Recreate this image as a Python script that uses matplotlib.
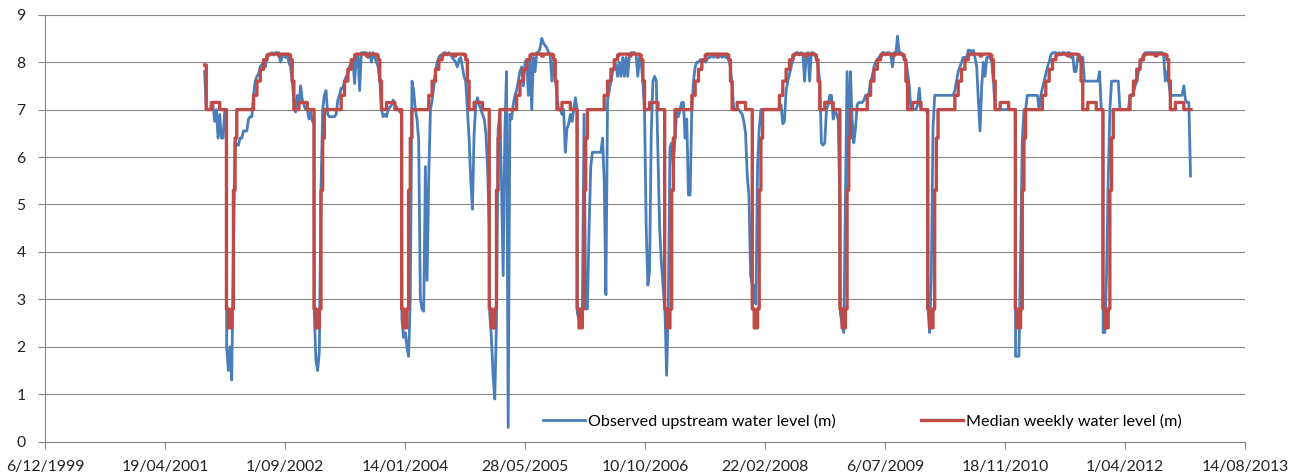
import datetime as dt
import matplotlib
matplotlib.use('Agg')
import matplotlib.pyplot as plt
import matplotlib.dates as mdates

# Observed upstream water level (m), one reading per week counted from 1 January
# of each year. 2001 only starts at week 39.
first_week_2001 = 39
obs_2001 = [7.8, 7.0, 7.0, 7.0, 7.05, 7.1, 6.75, 7.0, 6.4, 6.9, 6.4, 6.4, 7.0, 7.0]
obs_2002 = [2.0, 1.5, 2.0, 1.3, 4.0, 6.3, 6.25, 6.25, 6.4, 6.4, 6.55, 6.55, 6.55, 6.8,
            6.85, 6.85, 7.3, 7.6, 7.7, 7.75, 7.9, 7.95, 8.0, 7.9, 8.1, 8.15, 8.15, 8.2,
            8.15, 8.2, 8.2, 8.2, 8.0, 8.1, 8.15, 8.1, 8.15, 8.0, 7.9, 7.6, 7.2, 6.95,
            7.3, 7.1, 7.5, 7.2, 7.1, 7.0, 7.0, 6.8, 6.95, 6.75, 6.8]
obs_2003 = [2.7, 1.7, 1.5, 1.9, 5.3, 7.0, 7.3, 7.4, 6.9, 6.85, 6.85, 6.85, 6.85, 6.9,
            7.2, 7.3, 7.45, 7.45, 7.6, 7.7, 7.75, 7.9, 8.0, 8.05, 7.55, 8.1, 8.15, 7.4,
            8.2, 8.2, 8.2, 8.2, 8.1, 8.2, 8.0, 8.2, 8.1, 8.0, 7.9, 7.6, 7.0, 6.85, 6.9,
            6.85, 7.0, 7.05, 7.1, 7.2, 7.1, 7.05, 7.0, 6.95, 6.9]
obs_2004 = [2.6, 2.2, 2.3, 2.0, 1.8, 3.0, 7.6, 7.4, 7.0, 6.8, 6.35, 3.0, 2.8, 2.75,
            5.8, 3.4, 5.6, 7.0, 7.2, 7.5, 7.8, 8.0, 8.1, 8.15, 8.15, 8.2, 8.2, 8.15,
            8.2, 8.15, 8.1, 8.05, 8.0, 7.9, 8.05, 8.1, 7.9, 7.7, 7.6, 7.0, 6.4, 5.5,
            4.9, 6.5, 7.1, 7.25, 7.1, 7.0, 6.9, 6.8, 6.5, 5.8, 4.5]
obs_2005 = [2.7, 2.2, 1.4, 0.9, 2.5, 6.6, 6.9, 5.5, 3.5, 6.5, 7.8, 0.3, 6.9, 6.8,
            7.1, 7.3, 7.4, 7.6, 7.8, 7.9, 7.5, 8.0, 8.05, 7.3, 8.1, 7.0, 8.1, 7.8,
            8.2, 8.2, 8.3, 8.5, 8.4, 8.35, 8.3, 8.2, 8.15, 7.6, 8.0, 7.7, 7.3, 7.0,
            7.0, 6.9, 7.0, 6.1, 6.6, 6.7, 6.9, 6.75, 7.0, 7.25, 7.0]
obs_2006 = [2.7, 2.6, 2.8, 2.8, 6.9, 2.8, 2.8, 4.5, 5.8, 6.1, 6.1, 6.1, 6.1, 6.1,
            6.1, 6.4, 5.5, 3.1, 7.2, 7.4, 7.6, 7.8, 7.9, 7.95, 7.7, 8.0, 7.7, 8.1,
            7.7, 8.1, 7.7, 8.15, 8.2, 8.2, 8.2, 8.15, 7.7, 8.1, 8.0, 7.6, 7.0, 4.5,
            3.3, 3.6, 6.5, 7.6, 7.7, 7.6, 6.0, 4.5, 3.8, 3.3, 2.8]
obs_2007 = [2.8, 1.4, 2.8, 6.2, 6.3, 5.8, 6.4, 6.95, 6.85, 7.0, 7.15, 7.15, 6.4, 6.8,
            5.2, 5.2, 7.0, 7.6, 7.9, 8.0, 8.0, 8.05, 8.0, 8.05, 8.0, 8.05, 8.1, 8.1,
            8.15, 8.1, 8.15, 8.1, 8.1, 8.15, 8.1, 8.15, 8.1, 8.1, 8.05, 7.9, 7.5, 7.0,
            7.0, 7.0, 7.0, 6.95, 6.9, 6.75, 6.5, 5.6, 5.2, 3.5, 3.3]
obs_2008 = [2.9, 3.3, 2.9, 5.8, 6.6, 7.0, 7.0, 7.0, 7.0, 7.0, 7.0, 7.0, 7.0, 7.0,
            7.0, 7.0, 7.05, 7.1, 6.7, 6.75, 7.4, 7.6, 7.75, 7.9, 8.05, 8.15, 8.2, 8.2,
            8.15, 8.2, 8.15, 7.6, 8.15, 8.2, 7.6, 8.2, 8.2, 8.15, 8.1, 7.9, 7.6, 6.3,
            6.25, 6.3, 7.0, 7.1, 7.3, 7.3, 6.8, 7.0, 6.9, 6.8, 5.0]
obs_2009 = [2.7, 2.5, 2.3, 5.0, 7.8, 6.0, 7.8, 6.8, 6.3, 6.6, 7.1, 7.15, 7.15, 7.15,
            7.2, 7.3, 7.3, 7.35, 7.6, 7.7, 7.9, 8.0, 8.05, 8.1, 8.15, 8.2, 8.2, 8.15,
            8.2, 8.2, 8.15, 7.9, 8.2, 8.15, 8.55, 8.2, 8.2, 8.15, 8.1, 8.0, 7.8, 7.5,
            7.0, 7.0, 7.0, 7.0, 7.1, 7.45, 7.0, 7.0, 7.0, 7.0, 6.9]
obs_2010 = [2.8, 2.3, 3.5, 6.6, 7.3, 7.3, 7.3, 7.3, 7.3, 7.3, 7.3, 7.3, 7.3, 7.3,
            7.3, 7.3, 7.4, 7.6, 7.8, 7.9, 8.0, 8.1, 8.1, 8.1, 8.25, 8.25, 8.2, 8.25,
            8.1, 7.9, 7.2, 6.55, 7.5, 8.0, 7.7, 8.1, 8.1, 8.1, 8.0, 7.6, 7.0, 7.0,
            7.0, 7.0, 7.0, 7.0, 7.0, 7.0, 7.0, 7.0, 7.0, 7.0, 7.0]
obs_2011 = [1.8, 1.8, 1.8, 4.0, 6.35, 7.0, 7.0, 7.3, 7.3, 7.3, 7.3, 7.3, 7.3, 7.3,
            7.0, 7.3, 7.45, 7.6, 7.75, 7.9, 8.0, 8.15, 8.2, 8.2, 8.2, 8.15, 8.2, 8.15,
            8.2, 8.2, 8.15, 8.2, 8.2, 8.1, 8.15, 7.8, 7.8, 8.1, 8.1, 8.1, 8.1, 7.6,
            7.6, 7.6, 7.6, 7.6, 7.6, 7.6, 7.6, 7.6, 7.8, 7.0, 7.0]
obs_2012 = [2.3, 2.3, 3.5, 5.5, 7.0, 7.6, 7.6, 7.6, 7.6, 7.6, 7.0, 7.0, 7.0, 7.0,
            7.0, 7.0, 7.3, 7.3, 7.35, 7.5, 7.6, 7.8, 7.95, 8.05, 8.15, 8.2, 8.2, 8.2,
            8.2, 8.2, 8.2, 8.2, 8.2, 8.2, 8.2, 8.2, 8.15, 7.6, 7.8, 7.6, 7.3, 7.3,
            7.3, 7.3, 7.3, 7.3, 7.3, 7.3, 7.5, 7.2, 7.15, 7.15, 5.6]

# median weekly water level (m) for week 0..52 of the year
median_weekly = [2.8, 2.4, 2.4, 2.8, 5.3, 6.4,
                 7.0, 7.0, 7.0, 7.0, 7.0, 7.0, 7.0, 7.0, 7.0, 7.0,
                 7.3, 7.3, 7.6, 7.6, 7.85, 7.85, 8.05, 8.05,
                 8.15, 8.17, 8.17, 8.17, 8.17, 8.17, 8.17, 8.13, 8.17, 8.17, 8.17, 8.17, 8.17, 8.15,
                 8.05, 7.6, 7.0, 7.0, 7.0,
                 7.15, 7.15, 7.15, 7.15, 7.15,
                 7.0, 7.0, 7.0, 7.0, 2.8]
median_first = 7.94   # first week of the record (late Sept 2001)

obs_years = [2001, 2002, 2003, 2004, 2005, 2006, 2007, 2008, 2009, 2010, 2011, 2012]
obs_lists = [obs_2001, obs_2002, obs_2003, obs_2004, obs_2005, obs_2006,
             obs_2007, obs_2008, obs_2009, obs_2010, obs_2011, obs_2012]

axis_start = dt.date(1999, 12, 6)
axis_end = dt.date(2013, 8, 14)
tick_step = 500   # days, like the excel axis


def week_dates(year, start, n):
    d0 = dt.date(year, 1, 1)
    return [d0 + dt.timedelta(days=7 * k) for k in range(start, start + n)]


obs_x, obs_y = [], []
for yr, vals in zip(obs_years, obs_lists):
    start = first_week_2001 if yr == 2001 else 0
    obs_x += week_dates(yr, start, len(vals))
    obs_y += vals

med_x, med_y = [], []
for yr in obs_years:
    start = first_week_2001 if yr == 2001 else 0
    stop = 52 if yr == 2012 else 53
    vals = median_weekly[start:stop]
    med_x += week_dates(yr, start, len(vals))
    med_y += vals
med_y[0] = median_first
med_x.append(dt.date(2013, 1, 1))
med_y.append(med_y[-1])

plt.rcParams['font.family'] = ['Lato', 'DejaVu Sans']
plt.rcParams['font.size'] = 11

fig = plt.figure(figsize=(13, 4.74), dpi=100)
ax = fig.add_axes([45 / 1300, 1 - 441.7 / 474, 1200 / 1300, 427 / 474])

ax.plot(mdates.date2num(obs_x), obs_y, color='#4A7EBB', lw=2.0,
        label='Observed upstream water level (m)', zorder=3)
ax.plot(mdates.date2num(med_x), med_y, color='#BE4B48', lw=2.4,
        drawstyle='steps-post', label='Median weekly water level (m)', zorder=4)

ax.set_ylim(0, 9)
ax.set_yticks(range(0, 10))
x0 = mdates.date2num(axis_start)
x1 = mdates.date2num(axis_end)
ax.set_xlim(x0, x1)
ticks = [axis_start + dt.timedelta(days=tick_step * i) for i in range(11)]
ax.set_xticks(mdates.date2num(ticks))
ax.set_xticklabels(['%d/%02d/%d' % (t.day, t.month, t.year) for t in ticks])

ax.grid(axis='y', color='#878787', lw=0.8)
ax.set_axisbelow(True)
for s in ['top', 'right']:
    ax.spines[s].set_visible(False)
for s in ['left', 'bottom']:
    ax.spines[s].set_color('#878787')
    ax.spines[s].set_linewidth(0.8)
ax.tick_params(axis='both', direction='out', length=5, width=0.8, color='#878787',
               labelcolor='#222222', labelsize=11.3)
ax.tick_params(axis='x', pad=8)
ax.tick_params(axis='y', pad=9)

ax.legend(loc='center left', bbox_to_anchor=(543 / 1300, 1 - 421 / 474),
          bbox_transform=fig.transFigure, ncol=2, frameon=False, borderpad=0,
          borderaxespad=0, handlelength=2.6, handletextpad=0.2, columnspacing=5.3,
          fontsize=11.6)

fig.savefig('out.png', dpi=100)
